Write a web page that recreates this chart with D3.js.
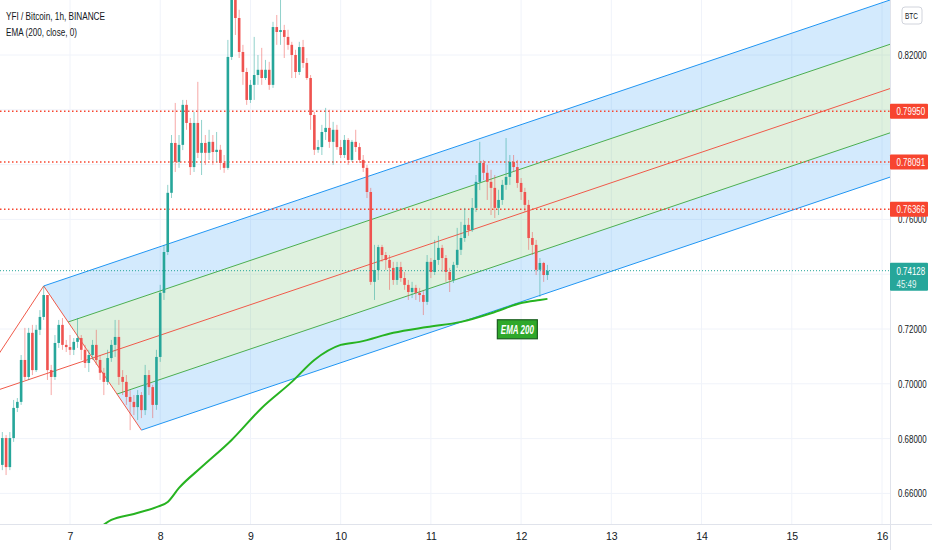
<!DOCTYPE html>
<html>
<head>
<meta charset="utf-8">
<script src="https://cdn.jsdelivr.net/npm/d3@7"></script>
<style>
body { margin: 0; background: #fff; }
svg { display: block; font-family: "Liberation Sans", Arial, sans-serif; }
</style>
</head>
<body>
<svg id="chart" width="932" height="550"></svg>
<script>
// hourly candles, first one at Feb 6 05:00 (UTC)
const startHour = Date.UTC(2021, 1, 6, 5);
const firstOpen = 0.6576;

const closes = [
  0.6704, 0.6802, 0.6696, 0.6802, 0.6912, 0.6934, 0.7087, 0.7025, 0.7186, 0.7050,
  0.7197, 0.7244, 0.7324, 0.7050, 0.7025, 0.7149, 0.7215, 0.7142, 0.7134, 0.7124,
  0.7153, 0.7167, 0.7124, 0.7076, 0.7105, 0.7142, 0.7087, 0.7040, 0.7007, 0.7094,
  0.7142, 0.7171, 0.7025, 0.7007, 0.6952, 0.6934, 0.6915, 0.6959, 0.6904, 0.7032,
  0.6988, 0.6923, 0.7098, 0.7332, 0.7481, 0.7697, 0.7879, 0.7810, 0.7872, 0.8018,
  0.7952, 0.7791, 0.7952, 0.7843, 0.7879, 0.7843, 0.7883, 0.7846, 0.7854, 0.7806,
  0.7788, 0.8193, 0.8419, 0.8335, 0.8211, 0.8138, 0.8036, 0.8091, 0.8127, 0.8146,
  0.8116, 0.8146, 0.8091, 0.8302, 0.8284, 0.8291, 0.8266, 0.8237, 0.8200, 0.8138,
  0.8229, 0.8171, 0.8116, 0.7981, 0.7854, 0.7864, 0.7919, 0.7934, 0.7883, 0.7927,
  0.7864, 0.7835, 0.7890, 0.7817, 0.7883, 0.7864, 0.7817, 0.7788, 0.7700, 0.7372,
  0.7415, 0.7499, 0.7470, 0.7452, 0.7423, 0.7379, 0.7426, 0.7386, 0.7361, 0.7335,
  0.7350, 0.7332, 0.7324, 0.7299, 0.7445, 0.7408, 0.7452, 0.7496, 0.7459, 0.7408,
  0.7379, 0.7434, 0.7489, 0.7532, 0.7580, 0.7561, 0.7642, 0.7737, 0.7806, 0.7770,
  0.7737, 0.7715, 0.7642, 0.7671, 0.7726, 0.7755, 0.7810, 0.7791, 0.7733, 0.7700,
  0.7653, 0.7532, 0.7507, 0.7416, 0.7441, 0.7397, 0.74128
];

const highs = [
  0.6722, 0.6824, 0.6813, 0.6824, 0.6941, 0.6948, 0.7105, 0.7204, 0.7204, 0.7215,
  0.7215, 0.7269, 0.7357, 0.7324, 0.7069, 0.7178, 0.7233, 0.7240, 0.7160, 0.7178,
  0.7167, 0.7240, 0.7178, 0.7142, 0.7124, 0.7160, 0.7197, 0.7105, 0.7058, 0.7124,
  0.7160, 0.7233, 0.7233, 0.7050, 0.7032, 0.6977, 0.6959, 0.6977, 0.6970, 0.7069,
  0.7050, 0.6996, 0.7124, 0.7361, 0.7507, 0.7726, 0.7908, 0.8025, 0.7908, 0.8036,
  0.8036, 0.7970, 0.7992, 0.8102, 0.7963, 0.7908, 0.7927, 0.7908, 0.7919, 0.7872,
  0.7835, 0.8255, 0.8456, 0.8456, 0.8365, 0.8237, 0.8153, 0.8109, 0.8266, 0.8200,
  0.8226, 0.8182, 0.8175, 0.8321, 0.8346, 0.8438, 0.8310, 0.8292, 0.8248, 0.8219,
  0.8248, 0.8255, 0.8189, 0.8127, 0.7992, 0.7890, 0.7945, 0.8007, 0.8000, 0.7956,
  0.7945, 0.7890, 0.7908, 0.7897, 0.7890, 0.7927, 0.7879, 0.7835, 0.7799, 0.7715,
  0.7507, 0.7507, 0.7507, 0.7481, 0.7470, 0.7445, 0.7445, 0.7445, 0.7408, 0.7379,
  0.7372, 0.7361, 0.7350, 0.7343, 0.7470, 0.7459, 0.7525, 0.7540, 0.7507, 0.7470,
  0.7423, 0.7445, 0.7569, 0.7591, 0.7642, 0.7605, 0.7678, 0.7762, 0.7883, 0.7817,
  0.7799, 0.7781, 0.7762, 0.7708, 0.7744, 0.7897, 0.7835, 0.7835, 0.7817, 0.7751,
  0.7715, 0.7671, 0.7554, 0.7525, 0.7459, 0.7445, 0.7434
];

const lows = [
  0.6558, 0.6685, 0.6667, 0.6685, 0.6788, 0.6897, 0.6923, 0.7014, 0.7014, 0.7032,
  0.7043, 0.7178, 0.7233, 0.7014, 0.6959, 0.7014, 0.7131, 0.7124, 0.7116, 0.7105,
  0.7105, 0.7131, 0.7087, 0.7058, 0.7043, 0.7087, 0.7069, 0.7014, 0.6959, 0.6996,
  0.7080, 0.7098, 0.6996, 0.6959, 0.6923, 0.6831, 0.6886, 0.6868, 0.6875, 0.6886,
  0.6959, 0.6875, 0.6905, 0.7080, 0.7306, 0.7470, 0.7678, 0.7773, 0.7788, 0.7853,
  0.7927, 0.7762, 0.7773, 0.7824, 0.7762, 0.7799, 0.7817, 0.7799, 0.7810, 0.7781,
  0.7770, 0.7781, 0.8182, 0.8273, 0.8189, 0.8091, 0.8018, 0.8025, 0.8036, 0.8091,
  0.8091, 0.8109, 0.8073, 0.8080, 0.8237, 0.8237, 0.8189, 0.8219, 0.8116, 0.8116,
  0.8127, 0.8153, 0.8109, 0.7927, 0.7835, 0.7843, 0.7835, 0.7890, 0.7861, 0.7799,
  0.7854, 0.7824, 0.7824, 0.7799, 0.7810, 0.7846, 0.7806, 0.7773, 0.7678, 0.7361,
  0.7306, 0.7379, 0.7445, 0.7416, 0.7343, 0.7361, 0.7361, 0.7372, 0.7343, 0.7306,
  0.7313, 0.7306, 0.7299, 0.7251, 0.7288, 0.7386, 0.7397, 0.7434, 0.7408, 0.7372,
  0.7335, 0.7368, 0.7423, 0.7470, 0.7518, 0.7540, 0.7554, 0.7627, 0.7707, 0.7744,
  0.7671, 0.7616, 0.7605, 0.7616, 0.7653, 0.7708, 0.7726, 0.7773, 0.7715, 0.7671,
  0.7627, 0.7489, 0.7470, 0.7397, 0.7317, 0.7372, 0.7379
];

// EMA(200), hour offsets from startHour
const emaHours  = [26, 30, 36, 42, 45, 48, 54, 62, 70, 78, 84, 91, 96, 105, 114, 123, 132, 139, 144, 146];
const emaValues = [0.6466, 0.6503, 0.6525, 0.6550, 0.6569, 0.6620, 0.6696, 0.6795, 0.6912, 0.7007,
                   0.7087, 0.7142, 0.7153, 0.7186, 0.7207, 0.7226, 0.7262, 0.7295, 0.7306, 0.7310];

// pitchfork anchors A, B, C (hour offset, price)
const pitchHours  = [-8, 12, 38];
const pitchPrices = [0.6941, 0.7357, 0.6831];

const dayTicks = [7, 8, 9, 10, 11, 12, 13, 14, 15, 16];
const priceTicks = [0.66, 0.68, 0.70, 0.72, 0.74, 0.76, 0.78, 0.80, 0.82];
const levelPrices = [0.79950, 0.78091, 0.76366];
const lastPrice = 0.74128;
const countdown = "45:49";

const paneR = 890, paneB = 524;
const upCol = "#26a69a", downCol = "#ef5350", levelCol = "#f7452f";
const hourMs = 3600e3;
const squeeze = 0.72;   // the scale font is very narrow
const toDate = h => new Date(startHour + h * hourMs);
const fmt = d3.format(".5f");

const svg = d3.select("#chart");

const x = d3.scaleUtc()
  .domain([new Date(Date.UTC(2021, 1, 7)), new Date(Date.UTC(2021, 1, 16))])
  .range([70, 882]);
const y = d3.scaleLinear().domain([0.66, 0.82]).range([493.4, 55]);

const narrow = (sel, w) => sel.attr("textLength", w).attr("lengthAdjust", "spacingAndGlyphs");

svg.append("defs").append("clipPath").attr("id", "pane")
  .append("rect").attr("x", 0).attr("y", 0).attr("width", paneR).attr("height", paneB);

// grid
const grid = svg.append("g");
const dayDates = dayTicks.map(d => new Date(Date.UTC(2021, 1, d)));
grid.selectAll(".vg").data(dayDates).enter().append("line")
  .attr("x1", d => x(d)).attr("x2", d => x(d))
  .attr("y1", 0).attr("y2", paneB)
  .attr("stroke", "#f0f3fa");
grid.selectAll(".hg").data(priceTicks).enter().append("line")
  .attr("x1", 0).attr("x2", paneR)
  .attr("y1", d => y(d)).attr("y2", d => y(d))
  .attr("stroke", "#f0f3fa");

const pane = svg.append("g").attr("clip-path", "url(#pane)");

// pitchfork
const A = {h: pitchHours[0], p: pitchPrices[0]};
const B = {h: pitchHours[1], p: pitchPrices[1]};
const C = {h: pitchHours[2], p: pitchPrices[2]};
const along = f => ({h: B.h + f * (C.h - B.h), p: B.p + f * (C.p - B.p)});
const M = along(0.5), Q1 = along(0.25), Q3 = along(0.75);
const slope = (M.p - A.p) / (M.h - A.h);
const endH = (x.invert(paneR + 2) - startHour) / hourMs;
const ext = P => ({h: endH, p: P.p + slope * (endH - P.h)});
const px = P => [x(toDate(P.h)), y(P.p)];
const poly = pts => "M" + pts.map(px).map(q => q.join(",")).join("L") + "Z";

pane.append("path").attr("d", poly([B, ext(B), ext(Q1), Q1]))
  .attr("fill", "rgba(33,150,243,0.2)");
pane.append("path").attr("d", poly([Q3, ext(Q3), ext(C), C]))
  .attr("fill", "rgba(33,150,243,0.2)");
pane.append("path").attr("d", poly([Q1, ext(Q1), ext(Q3), Q3]))
  .attr("fill", "rgba(76,175,80,0.18)");

const seg = (P, Q, col) => pane.append("line")
  .attr("x1", px(P)[0]).attr("y1", px(P)[1])
  .attr("x2", px(Q)[0]).attr("y2", px(Q)[1])
  .attr("stroke", col).attr("stroke-width", 1);

seg(B, ext(B), "#2196f3");
seg(C, ext(C), "#2196f3");
seg(Q1, ext(Q1), "#4caf50");
seg(Q3, ext(Q3), "#4caf50");
seg(A, ext(A), "#f05a4a");
seg(A, B, "#f05a4a");
seg(B, C, "#f05a4a");

// horizontal levels
pane.selectAll(".lvl").data(levelPrices).enter().append("line")
  .attr("x1", 0).attr("x2", paneR)
  .attr("y1", d => y(d)).attr("y2", d => y(d))
  .attr("stroke", levelCol).attr("stroke-width", 1.5)
  .attr("stroke-dasharray", "1.5,2.5");

// EMA 200
const emaLine = d3.line()
  .x((d, i) => x(toDate(emaHours[i])))
  .y(d => y(d))
  .curve(d3.curveMonotoneX);
pane.append("path").attr("d", emaLine(emaValues))
  .attr("fill", "none").attr("stroke", "#27b321").attr("stroke-width", 2);

// candles
const candles = closes.map((c, i) => {
  const o = i ? closes[i - 1] : firstOpen;
  return {t: toDate(i), o, c, h: Math.max(highs[i], o, c), l: Math.min(lows[i], o, c)};
});
const cg = pane.selectAll(".candle").data(candles).enter().append("g");
cg.append("line")
  .attr("x1", d => x(d.t)).attr("x2", d => x(d.t))
  .attr("y1", d => y(d.h)).attr("y2", d => y(d.l))
  .attr("stroke", d => d.c >= d.o ? upCol : downCol)
  .attr("stroke-opacity", 0.5).attr("stroke-width", 1);
cg.append("rect")
  .attr("x", d => x(d.t) - 1.3).attr("width", 2.6)
  .attr("y", d => y(Math.max(d.o, d.c)))
  .attr("height", d => Math.max(1, Math.abs(y(d.o) - y(d.c))))
  .attr("fill", d => d.c >= d.o ? upCol : downCol);

// last price line
pane.append("line")
  .attr("x1", 0).attr("x2", paneR)
  .attr("y1", y(lastPrice)).attr("y2", y(lastPrice))
  .attr("stroke", upCol).attr("stroke-width", 1).attr("stroke-dasharray", "1,2");

// EMA label
const labelPos = {h: 138, p: 0.7199};
const lg = svg.append("g")
  .attr("transform", `translate(${x(toDate(labelPos.h))},${y(labelPos.p)})`);
lg.append("rect").attr("x", -20).attr("y", -9.5).attr("width", 40).attr("height", 19)
  .attr("fill", "#2fa82a").attr("stroke", "#1b5e20").attr("stroke-width", 1.2);
narrow(lg.append("text").attr("x", -16.5).attr("dy", "0.36em")
  .attr("fill", "#fff").attr("font-size", 12).attr("font-weight", "bold")
  .attr("font-style", "italic").text("EMA 200"), 33);

// axes
svg.append("line").attr("x1", paneR + 0.5).attr("x2", paneR + 0.5)
  .attr("y1", 0).attr("y2", 550).attr("stroke", "#e0e3eb");
svg.append("line").attr("x1", 0).attr("x2", 932)
  .attr("y1", paneB + 0.5).attr("y2", paneB + 0.5).attr("stroke", "#e0e3eb");

const yAxis = svg.append("g").attr("transform", `translate(${paneR},0)`)
  .call(d3.axisRight(y).tickValues(priceTicks).tickSize(0).tickPadding(8).tickFormat(fmt));
yAxis.select(".domain").remove();
yAxis.selectAll("text")
  .attr("fill", "#131722").attr("font-size", 11)
  .attr("x", 8 / squeeze).attr("transform", `scale(${squeeze},1)`);
// the scale hides tick labels that sit under a price label
const tagged = levelPrices.concat([lastPrice]);
yAxis.selectAll(".tick")
  .filter(d => tagged.some(p => Math.abs(y(p) - y(d)) < 9))
  .select("text").remove();

const xAxis = svg.append("g").attr("transform", `translate(0,${paneB})`)
  .call(d3.axisBottom(x).tickValues(dayDates).tickSize(0).tickPadding(9)
    .tickFormat(d3.utcFormat("%-d")));
xAxis.select(".domain").remove();
xAxis.selectAll("text").attr("fill", "#131722").attr("font-size", 10.5);

// price labels on the scale
const pl = svg.selectAll(".plabel").data(levelPrices).enter().append("g")
  .attr("transform", d => `translate(${paneR},${y(d)})`);
pl.append("rect").attr("x", 0).attr("y", -7.5).attr("width", 38).attr("height", 15)
  .attr("rx", 1).attr("fill", levelCol);
pl.append("text").attr("dy", "0.36em").attr("fill", "#fff").attr("font-size", 11)
  .attr("transform", `translate(6.5,0) scale(${squeeze},1)`).text(d => fmt(d));

const lp = svg.append("g").attr("transform", `translate(${paneR},${y(lastPrice)})`);
lp.append("rect").attr("x", 0).attr("y", -8).attr("width", 38).attr("height", 28)
  .attr("rx", 1).attr("fill", upCol);
lp.append("text").attr("dy", "0.36em").attr("fill", "#fff").attr("font-size", 11)
  .attr("transform", `translate(6.5,0) scale(${squeeze},1)`).text(fmt(lastPrice));
lp.append("text").attr("dy", "0.36em").attr("fill", "#e3f4f2").attr("font-size", 11)
  .attr("transform", `translate(6.5,13) scale(${squeeze},1)`).text(countdown);

// currency badge
svg.append("rect").attr("x", 902).attr("y", 7).attr("width", 20).attr("height", 17)
  .attr("rx", 3).attr("fill", "#fff").attr("stroke", "#d1d4dc");
svg.append("text").attr("dy", "0.36em").attr("font-size", 9).attr("fill", "#131722")
  .attr("transform", `translate(905,15.5) scale(${squeeze},1)`).text("BTC");

// legend
narrow(svg.append("text").attr("x", 6).attr("y", 20).attr("font-size", 11.5)
  .attr("fill", "#131722").text("YFI / Bitcoin, 1h, BINANCE"), 99);
narrow(svg.append("text").attr("x", 6).attr("y", 36).attr("font-size", 11.5)
  .attr("fill", "#131722").text("EMA (200, close, 0)"), 71);
</script>
</body>
</html>
